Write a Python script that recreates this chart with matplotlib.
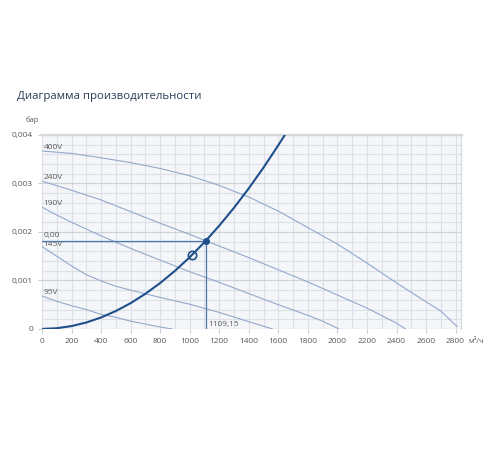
import matplotlib.pyplot as plt
import matplotlib.ticker as mticker

plt.rcParams['font.family'] = ['Open Sans', 'DejaVu Sans']

# fan curves (m3/h, bar)
x400 = [0, 200, 400, 600, 800, 1000, 1200, 1400, 1600, 1800, 2000, 2200, 2400, 2600, 2700, 2810]
y400 = [0.00367, 0.00362, 0.00353, 0.00343, 0.00331, 0.00316, 0.00296, 0.00272, 0.00243,
        0.00209, 0.00175, 0.00136, 0.00095, 0.00056, 0.00037, 0.00005]
x240 = [0, 200, 400, 600, 800, 1000, 1200, 1400, 1600, 1800, 2000, 2200, 2400, 2460]
y240 = [0.00305, 0.00286, 0.00266, 0.00242, 0.00218, 0.00195, 0.00171, 0.00147, 0.00122,
        0.00097, 0.0007, 0.00043, 0.00012, 0.0]
x190 = [0, 100, 200, 400, 600, 800, 1000, 1200, 1400, 1600, 1800, 1900, 2010]
y190 = [0.00251, 0.00235, 0.0022, 0.00192, 0.00166, 0.00142, 0.00118, 0.00096, 0.00073,
        0.0005, 0.00028, 0.00016, 0.0]
x145 = [0, 100, 200, 300, 400, 500, 600, 800, 1000, 1200, 1400, 1560]
y145 = [0.0017, 0.0015, 0.0013, 0.00112, 0.00099, 0.00088, 0.0008, 0.00065, 0.00051,
        0.00034, 0.00015, 0.0]
x95 = [0, 100, 200, 300, 400, 500, 600, 700, 800, 880]
y95 = [0.00068, 0.00057, 0.00048, 0.0004, 0.0003, 0.00024, 0.00016, 0.0001, 0.00004, 0.0]

# system curve
xs = [0, 100, 200, 300, 400, 500, 600, 700, 800, 900, 1000, 1100, 1200, 1300, 1400, 1500, 1600, 1650]
ys = [0, 0.0000148, 0.0000592, 0.000133, 0.000237, 0.00037, 0.000532, 0.000725, 0.000947,
      0.001198, 0.001479, 0.00179, 0.00213, 0.0025, 0.0029, 0.00333, 0.00379, 0.00403]

# working point
qw = 1109.15
pw = 0.00182
q_open = 1013
p_open = 0.00152

curves = [(x400, y400, '400V'), (x240, y240, '240V'), (x190, y190, '190V'),
          (x145, y145, '145V'), (x95, y95, '95V')]

fig = plt.figure(figsize=(5, 4.5), dpi=100)
ax = fig.add_axes([0.084, 0.269, 0.839, 0.431])
ax.set_facecolor('#f4f6f9')

fan_c = '#94a9cc'
dark = '#1f4f8a'
txt_c = '#5a5a5a'
for xx, yy, lab in curves:
    ax.plot(xx, yy, color=fan_c, lw=0.8, zorder=3)
    off = 0.00005 if lab == '145V' else 0.00008
    ax.text(12, yy[0] + off, lab, fontsize=6, color=txt_c, va='center', ha='left', zorder=4)

ax.plot(xs, ys, color=dark, lw=1.5, zorder=5)
ax.plot([0, qw], [pw, pw], color='#4c78ad', lw=0.9, zorder=4)
ax.plot([qw, qw], [0, pw], color='#4c78ad', lw=0.9, zorder=4)
ax.plot([qw], [pw], marker='o', ms=4, color=dark, zorder=6)
ax.plot([q_open], [p_open], marker='o', ms=6, mfc='none', mec=dark, mew=1.2, zorder=6)
ax.text(12, pw + 0.0001, '0,00', fontsize=6, color=txt_c, va='center', ha='left', zorder=6)
ax.text(qw + 15, 0.0001, '1109,15', fontsize=6, color=txt_c, va='center', ha='left', zorder=6)

ax.set_xlim(0, 2840)
ax.set_ylim(0, 0.004)
ax.xaxis.set_major_locator(mticker.MultipleLocator(200))
ax.xaxis.set_minor_locator(mticker.MultipleLocator(100))
ax.yaxis.set_major_locator(mticker.MultipleLocator(0.001))
ax.yaxis.set_minor_locator(mticker.MultipleLocator(0.0002))
ax.yaxis.set_major_formatter(mticker.FuncFormatter(
    lambda v, p: '0' if v == 0 else ('%.3f' % v).replace('.', ',')))
ax.grid(which='minor', color='#dde0e4', lw=0.8)
ax.grid(which='major', axis='x', color='#dde0e4', lw=0.8)
ax.grid(which='major', axis='y', color='#cfd3d8', lw=0.9)
ax.set_axisbelow(True)
ax.tick_params(which='major', labelsize=6, labelcolor=txt_c, color='#c8ccd1', length=3, width=0.8)
ax.tick_params(which='minor', length=0)
for s in ['left', 'bottom']:
    ax.spines[s].set_visible(False)
ax.spines['top'].set_color('#d5d9de')
ax.spines['top'].set_linewidth(1.6)
ax.spines['right'].set_color('#d5d9de')
ax.spines['right'].set_linewidth(0.8)

fig.text(0.034, 0.785, 'Диаграмма производительности', fontsize=8.2, color='#2b3c5a', va='center')
fig.text(0.05, 0.733, 'бар', fontsize=5.5, color=txt_c, va='center')
fig.text(0.937, 0.241, 'м³/ч', fontsize=5.5, color=txt_c, va='center')

plt.savefig('out.png')
